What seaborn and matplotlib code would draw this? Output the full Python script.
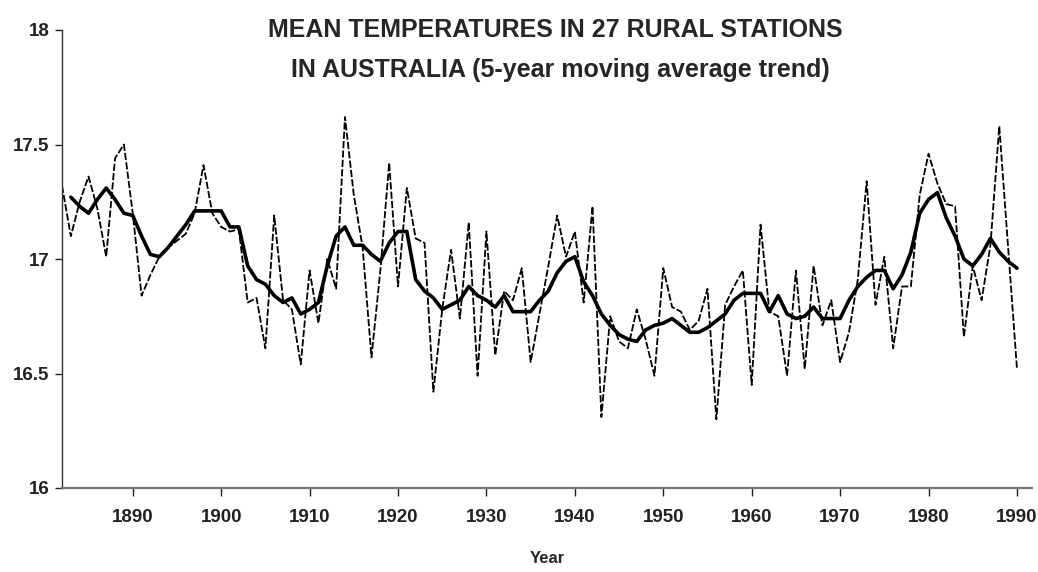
import matplotlib
matplotlib.use("Agg")
import matplotlib.pyplot as plt
import seaborn as sns
import pandas as pd
import numpy as np

years = list(range(1882, 1991))
annual_temp = [
    17.32, 17.10, 17.25, 17.36, 17.22, 17.01, 17.44, 17.50, 17.20, 16.84,
    16.93, 17.01, 17.05, 17.08, 17.11, 17.20, 17.41, 17.20, 17.14, 17.12,
    17.13, 16.81, 16.83, 16.61, 17.19, 16.82, 16.78, 16.54, 16.95, 16.72,
    17.00, 16.87, 17.62, 17.28, 17.05, 16.57, 16.95, 17.42, 16.88, 17.31,
    17.09, 17.07, 16.42, 16.78, 17.04, 16.74, 17.16, 16.49, 17.12, 16.58,
    16.86, 16.82, 16.96, 16.55, 16.76, 16.97, 17.19, 17.01, 17.12, 16.81,
    17.23, 16.31, 16.75, 16.64, 16.61, 16.78, 16.65, 16.49, 16.96, 16.79,
    16.77, 16.69, 16.73, 16.87, 16.30, 16.80, 16.88, 16.95, 16.45, 17.15,
    16.77, 16.75, 16.49, 16.95, 16.52, 16.97, 16.71, 16.82, 16.55, 16.68,
    16.91, 17.34, 16.80, 17.01, 16.61, 16.88, 16.88, 17.28, 17.46, 17.33,
    17.24, 17.23, 16.66, 16.97, 16.82, 17.06, 17.58, 17.05, 16.52,
]

trend_years = list(range(1883, 1991))
trend_temp = [
    17.27, 17.23, 17.20, 17.26, 17.31, 17.26, 17.20, 17.19, 17.10,
    17.02, 17.01, 17.05, 17.10, 17.15, 17.21, 17.21, 17.21, 17.21, 17.14,
    17.14, 16.97, 16.91, 16.89, 16.84, 16.81, 16.83, 16.76, 16.78, 16.81,
    16.97, 17.10, 17.14, 17.06, 17.06, 17.02, 16.99, 17.07, 17.12, 17.12,
    16.91, 16.86, 16.83, 16.78, 16.80, 16.82, 16.88, 16.84, 16.82, 16.79,
    16.84, 16.77, 16.77, 16.77, 16.82, 16.86, 16.94, 16.99, 17.01, 16.90,
    16.84, 16.76, 16.71, 16.67, 16.65, 16.64, 16.69, 16.71, 16.72, 16.74,
    16.71, 16.68, 16.68, 16.70, 16.73, 16.76, 16.82, 16.85, 16.85, 16.85,
    16.77, 16.84, 16.76, 16.74, 16.75, 16.79, 16.74, 16.74, 16.74, 16.82,
    16.88, 16.92, 16.95, 16.95, 16.87, 16.93, 17.03, 17.20, 17.26, 17.29,
    17.18, 17.10, 17.00, 16.97, 17.02, 17.09, 17.03, 16.99, 16.96,
]

x_ticks = [1890, 1900, 1910, 1920, 1930, 1940, 1950, 1960, 1970, 1980, 1990]
y_ticks = [16, 16.5, 17, 17.5, 18]
y_tick_labels = ["16", "16.5", "17", "17.5", "18"]
title_line1 = "MEAN TEMPERATURES IN 27 RURAL STATIONS"
title_line2 = "IN AUSTRALIA (5-year moving average trend)"
x_label = "Year"

sns.set_style("ticks")
fam = ["Liberation Sans Narrow", "Liberation Sans", "DejaVu Sans"]
plt.rcParams["font.family"] = fam

annual_df = pd.DataFrame({"Year": years, "Temp": annual_temp})
trend_df = pd.DataFrame({"Year": trend_years, "Temp": trend_temp})

fig = plt.figure(figsize=(10.38, 5.72), dpi=100)
ax = fig.add_axes([62 / 1038, 84 / 572, 970 / 1038, 458 / 572])

sns.lineplot(data=annual_df, x="Year", y="Temp", ax=ax, color="black",
             linewidth=1.3, linestyle=(0, (4, 1.2)))
sns.lineplot(data=trend_df, x="Year", y="Temp", ax=ax, color="black",
             linewidth=2.6)

ax.set_xlim(1882.0, 1991.7)
ax.set_ylim(16, 18)
ax.set_xticks(x_ticks)
ax.set_xticklabels([str(t) for t in x_ticks], fontsize=13.5, fontweight="bold")
ax.set_yticks(y_ticks)
ax.set_yticklabels(y_tick_labels, fontsize=13.5, fontweight="bold")
ax.tick_params(axis="x", direction="out", length=6, width=1.0, pad=9, colors="#222222")
ax.tick_params(axis="y", direction="out", length=5, width=1.0, pad=4, colors="#222222")
ax.set_xlabel(x_label, fontsize=12, fontweight="bold", labelpad=18)
ax.set_ylabel("")
for side in ["top", "right"]:
    ax.spines[side].set_visible(False)
ax.spines["left"].set_color("#333333")
ax.spines["left"].set_linewidth(1.0)
ax.spines["bottom"].set_color("#777777")
ax.spines["bottom"].set_linewidth(1.6)

fig.text(555 / 1038, 1 - 30 / 572, title_line1, ha="center", va="center",
         fontsize=18, fontweight="bold")
fig.text(560 / 1038, 1 - 70 / 572, title_line2, ha="center", va="center",
         fontsize=18, fontweight="bold")

fig.savefig("out.png", dpi=100)
